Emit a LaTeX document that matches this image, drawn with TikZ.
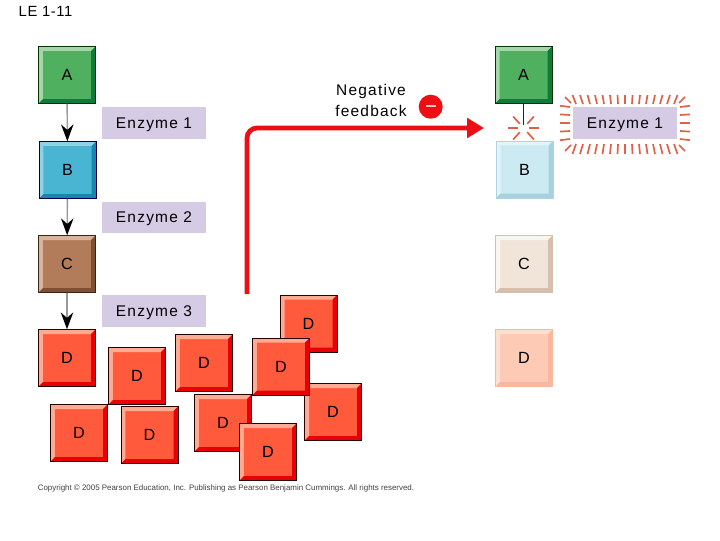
\documentclass[tikz,border=0pt]{standalone}
\usepackage{fontspec}
\setmainfont{Liberation Sans}
\newfontfamily\enzfont[LetterSpace=8]{Liberation Sans}
\newfontfamily\negfont[LetterSpace=8]{Liberation Sans}
\newfontfamily\titlefont[LetterSpace=4]{Liberation Sans}
\usepackage{xcolor}
\usetikzlibrary{arrows.meta}
\definecolor{greenmain}{HTML}{4FB15F}
\definecolor{greenlight}{HTML}{A5D6A8}
\definecolor{greendark}{HTML}{0F7A3A}
\definecolor{bluemain}{HTML}{4AB5D2}
\definecolor{bluelight}{HTML}{8FD2E5}
\definecolor{bluedark}{HTML}{1B86AB}
\definecolor{brownmain}{HTML}{B27B5A}
\definecolor{brownlight}{HTML}{D9B49C}
\definecolor{browndark}{HTML}{7E4F33}
\definecolor{redmain}{HTML}{FF5A3C}
\definecolor{redlight}{HTML}{FFAB94}
\definecolor{reddark}{HTML}{E80008}
\definecolor{palebrown}{HTML}{F1E5DA}
\definecolor{palebrownlight}{HTML}{FAF5EF}
\definecolor{palebrowndark}{HTML}{D6BFAD}
\definecolor{palered}{HTML}{FCCAB5}
\definecolor{paleredlight}{HTML}{FEE0D2}
\definecolor{palereddark}{HTML}{F9B79F}
\definecolor{enzyme}{HTML}{D5CBE5}
\definecolor{ray}{HTML}{E0604A}
\definecolor{arrowred}{HTML}{EE0F14}

\begin{document}
\begin{tikzpicture}[x=0.025cm,y=-0.025cm,
  bevel/.style n args={4}{rectangle,inner sep=0pt,minimum size=1.42cm,font=\fontsize{11.5}{12}\selectfont,
    fill=#1,draw=#4,line width=0.5pt,path picture={
      \fill[#2] (path picture bounding box.south west) -- (path picture bounding box.north west)
        -- (path picture bounding box.north east) -- ++(-0.11cm,-0.11cm) -- ++(-1.2cm,0cm) -- ++(0cm,-1.2cm) -- cycle;
      \fill[#3] (path picture bounding box.south west) -- (path picture bounding box.south east)
        -- (path picture bounding box.north east) -- ++(-0.11cm,-0.11cm) -- ++(0cm,-1.2cm) -- ++(-1.2cm,0cm) -- cycle;}},
  boxa/.style={bevel={greenmain}{greenlight}{greendark}{black!80!green}},
  boxb/.style={bevel={bluemain}{bluelight}{bluedark}{black!70!blue}},
  boxc/.style={bevel={brownmain}{brownlight}{browndark}{black!70!brown}},
  boxd/.style={bevel={redmain}{redlight}{reddark}{black!85!red}},
  paleb/.style={bevel={bluemain!28}{bluelight!25}{bluedark!38}{bluedark!35}},
  palec/.style={bevel={palebrown}{palebrownlight}{palebrowndark}{palebrowndark}},
  paled/.style={bevel={palered}{paleredlight}{palereddark}{palereddark}},
  enz/.style={rectangle,fill=enzyme,inner sep=0pt,minimum width=2.6cm,minimum height=0.78cm,text depth=0pt,font=\enzfont\fontsize{11}{12}\selectfont},
  conv/.style={draw=black!40,line width=1pt,-{Stealth[black,length=0.42cm,width=0.31cm]}},
  burst/.style={draw=ray,line width=1.2pt}]
  \useasboundingbox (0,0) rectangle (720,540);
  \node[font=\titlefont\fontsize{10.5}{11}\selectfont] (title) at (45.5,11) {LE 1-11};
  % left column
  \node[boxa] (a1) at (67,75) {A}; \node[boxb] (b1) at (67.5,170) {B}; \node[boxc] (c1) at (67,264) {C}; \node[boxd] (d1) at (67,358) {D};
  \draw[conv] (a1)--(b1); \draw[conv] (b1)--(c1); \draw[conv] (c1)--(d1);
  \node[enz] (e1) at (154,123) {Enzyme 1}; \node[enz] (e2) at (154,217.5) {Enzyme 2}; \node[enz] (e3) at (154,311) {Enzyme 3};
  % pile of D
  \node[boxd] (d2) at (137,376) {D}; \node[boxd] (d3) at (204,363) {D}; \node[boxd] (d4) at (79,433) {D}; \node[boxd] (d5) at (149.5,435) {D};
  \node[boxd] (d6) at (308.5,323.5) {D}; \node[boxd] (d8) at (333,412) {D}; \node[boxd] (d7) at (281,366.5) {D};
  \node[boxd] (d9) at (223,423) {D}; \node[boxd] (d10) at (268,452) {D};
  % right column
  \node[boxa] (a2) at (523.5,75) {A}; \node[paleb] (b2) at (524.5,169.5) {B}; \node[palec] (c2) at (524,264) {C}; \node[paled] (d11) at (524,358) {D};
  \node[enz] (e4) at (625,123) {Enzyme 1};
  \coordinate (brk) at (523.5,128);
  \coordinate (stub) at (523.5,125);
  \draw[line width=1pt,black!85] (a2.south)--(stub);
  \foreach \ang in {0,48,132,180,228,312} \draw[burst] (brk)++(\ang:5.5)--++(\ang:10);
  % glow round the active enzyme
  \foreach \i in {-7,...,7} {
    \draw[burst] (625+\i*7,104)--(625+\i*7.5,95);
    \draw[burst] (625+\i*7,144)--(625+\i*7.5,154);
  }
  \foreach \j in {-2,...,2} {
    \draw[burst] (570,123+\j*8)--(560,123+\j*8.6);
    \draw[burst] (680,123+\j*8)--(690,123+\j*8.6);
  }
  \draw[burst] (571,103)--(565,97); \draw[burst] (679,103)--(685,97);
  \draw[burst] (571,145)--(565,151); \draw[burst] (679,145)--(685,151);
  % feedback arrow
  \coordinate (fbstart) at (247,294); \coordinate (fbcorner) at (247,128); \coordinate (fbend) at (484,128);
  \draw[arrowred,line width=3.4pt,rounded corners=0.25cm,-{Triangle[length=0.42cm,width=0.48cm]}] (fbstart)--(fbcorner)--(fbend);
  \node[font=\negfont\fontsize{11}{14.9}\selectfont,align=center] (neg) at (371,100.5) {Negative\\feedback};
  \node[circle,fill=arrowred,minimum size=0.6cm,inner sep=0pt] (minus) at (430.7,106.7) {};
  \node[rectangle,fill=red!25,minimum width=0.24cm,minimum height=0.05cm,inner sep=0pt] (bar) at (430.7,105.5) {};
  \node[font=\fontsize{5.64}{6}\selectfont,text=black!75] (copy) at (226,488) {Copyright © 2005 Pearson Education, Inc. Publishing as Pearson Benjamin Cummings. All rights reserved.};
\end{tikzpicture}
\end{document}
